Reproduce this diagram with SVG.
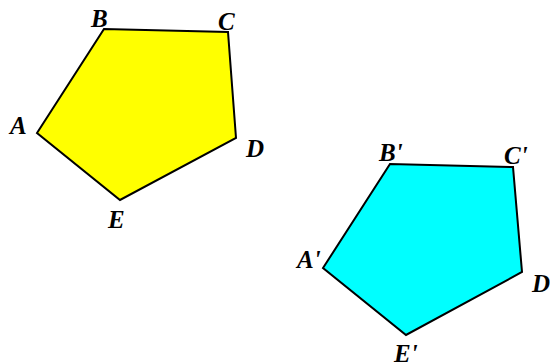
<svg xmlns="http://www.w3.org/2000/svg" width="550" height="362" viewBox="0 0 550 362">
<style>
.poly{stroke:#000;stroke-width:2;stroke-linejoin:miter}
.lbl{font-family:"Liberation Serif","Times New Roman",serif;font-weight:bold;font-style:italic;font-size:25px;fill:#000}
</style>
<rect width="550" height="362" fill="#fff"/>
<g id="pentagon-ABCDE">
<polygon class="poly" fill="#FFFF00" points="37,133 104,29 228,32 236,138 120,200"/>
</g>
<g id="pentagon-prime">
<polygon class="poly" fill="#00FFFF" points="323,268 390,164 513,167 522,272 406,335"/>
</g>
<g id="labels">
<text class="lbl" x="10" y="134">A</text>
<text class="lbl" x="91" y="27">B</text>
<text class="lbl" x="218" y="30">C</text>
<text class="lbl" x="246" y="157">D</text>
<text class="lbl" x="108" y="228">E</text>
<text class="lbl" x="297" y="268">A'</text>
<text class="lbl" x="379" y="161">B'</text>
<text class="lbl" x="504" y="164">C'</text>
<text class="lbl" x="532" y="292">D'</text>
<text class="lbl" x="394" y="362">E'</text>
</g>
</svg>
